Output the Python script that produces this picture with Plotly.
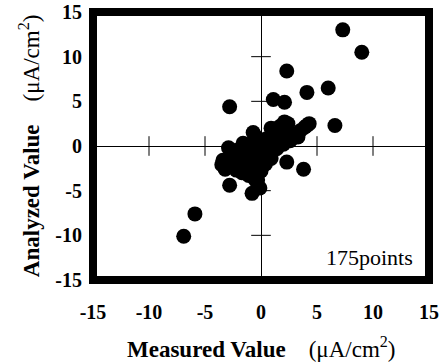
import plotly.graph_objects as go

# Measured (x) and analyzed (y) values, uA/cm^2
measured = [7.3, 9.0, 2.3, 6.0, 4.1, 1.1, 2.1, -2.8, 6.6, 4.3, 2.1, 0.9, -0.7,
            2.3, 3.8, -2.8, -0.8, -0.1, -5.9, -6.9,
            3.0, 3.5, 3.9, 3.3, 2.7, 2.2, 1.6, 1.5, 1.0, 0.5,
            -3.4, -3.5, -3.2, -2.9, -2.6, -2.4, -2.2, -2.0, -1.9, -1.8, -1.7,
            -1.5, -1.4, -1.3, -1.2, -1.1, -1.0, -0.9, -0.8, -0.7, -0.6, -0.5,
            -0.4, -0.3, -0.2, -0.1, 0.0, 0.1, 0.2, 0.3, 0.4, 0.6, 0.8, 0.9,
            1.2, 1.4, 1.8, 2.0, 2.3, 2.6, 2.9, 4.1, 1.7, 2.4, 1.2, -0.3, -1.6,
            -2.3, -2.7, -0.3]
analyzed = [13.0, 10.5, 8.4, 6.5, 6.0, 5.2, 4.9, 4.4, 2.3, 2.5, 2.7, 2.0, 1.5,
            -1.8, -2.6, -4.4, -5.3, -4.7, -7.6, -10.1,
            1.3, 1.7, 2.1, 1.0, 0.8, 0.5, 0.2, 1.5, 1.0, 0.8,
            -1.6, -2.1, -2.6, -0.2, -1.0, -1.8, -2.7, -0.6, -1.4, -2.2, -3.0,
            -0.3, -1.0, -1.9, -2.6, -3.3, 0.2, -0.7, -1.5, -2.3, -3.0, -3.8,
            0.5, -0.4, -1.2, -2.0, -2.8, 0.3, -0.5, -1.3, -2.0, 0.0, -0.8, -1.4,
            0.4, -0.3, 0.8, 0.2, 1.2, 0.6, 1.0, 2.3, 2.2, 2.5, 1.9, 0.9, 0.3,
            -0.5, -1.4, -3.8]

tick_vals = [-15, -10, -5, 0, 5, 10, 15]
tick_text = ["-15", "-10", "-5", "0", "5", "10", "15"]
cross_ticks = [-10, -5, 5, 10]
count_label = "175points"
x_title = "<b>Measured Value</b>\u00a0\u00a0\u00a0 (μA/cm<sup>2</sup>)"
y_title = "<b>Analyzed Value</b>\u00a0\u00a0\u00a0 (μA/cm<sup>2</sup>)"

FONT = "Liberation Serif, Times New Roman, serif"

fig = go.Figure()
# tick marks crossing the zero axes
fig.add_trace(go.Scatter(x=cross_ticks, y=[0] * len(cross_ticks), mode="markers",
                         marker=dict(symbol="line-ns", size=14,
                                     line=dict(color="black", width=1)),
                         hoverinfo="skip", showlegend=False))
fig.add_trace(go.Scatter(x=[0] * len(cross_ticks), y=cross_ticks, mode="markers",
                         marker=dict(symbol="line-ew", size=14,
                                     line=dict(color="black", width=1)),
                         hoverinfo="skip", showlegend=False))
fig.add_trace(go.Scatter(x=measured, y=analyzed, mode="markers",
                         marker=dict(color="black", size=15),
                         showlegend=False))

axis_common = dict(range=[-15, 15], tickvals=tick_vals, ticktext=tick_text,
                   showgrid=False, zeroline=True, zerolinecolor="black",
                   zerolinewidth=1, showline=False, ticks="", automargin=False,
                   tickfont=dict(family=FONT, size=20, color="black", weight="bold"))
fig.update_xaxes(**axis_common, ticklabelstandoff=18)
fig.update_yaxes(**axis_common, ticklabelstandoff=10)

fig.update_layout(
    width=439, height=362,
    margin=dict(l=93, r=10, t=12, b=82),
    plot_bgcolor="white", paper_bgcolor="white",
    font=dict(family=FONT, color="black"),
    shapes=[dict(type="rect", xref="paper", yref="paper", x0=0, x1=1, y0=0, y1=1,
                 line=dict(color="black", width=8))],
    annotations=[
        dict(text=count_label, xref="paper", yref="paper", x=0.958, y=0.084,
             xanchor="right", yanchor="middle", showarrow=False,
             font=dict(family=FONT, size=22, color="black")),
        dict(text=x_title, xref="paper", yref="paper", x=0.5, y=-0.251,
             xanchor="center", yanchor="middle", showarrow=False,
             font=dict(family=FONT, size=23, color="black")),
        dict(text=y_title, xref="paper", yref="paper", x=-0.19, y=0.5,
             xanchor="center", yanchor="middle", showarrow=False, textangle=-90,
             font=dict(family=FONT, size=23, color="black")),
    ],
)

fig.write_html("out.html", config={"displayModeBar": False},
               post_script="document.body.style.margin='0';")
